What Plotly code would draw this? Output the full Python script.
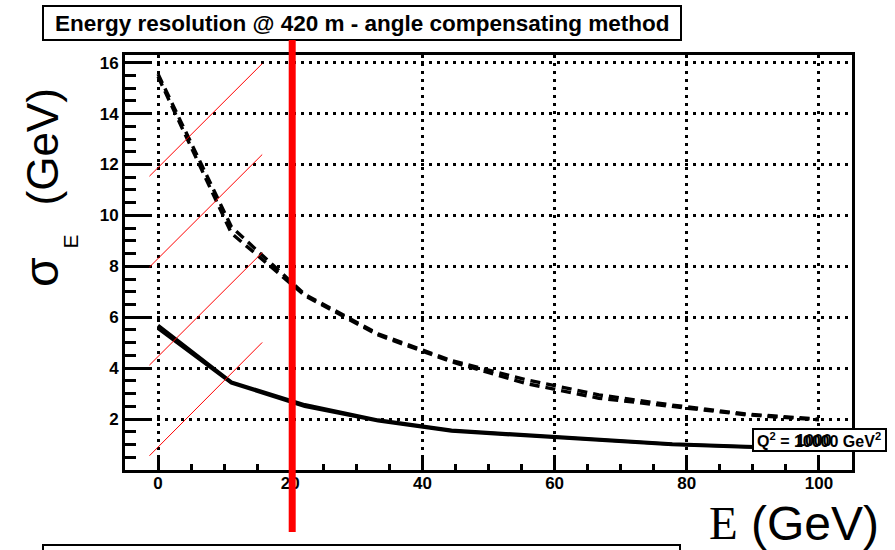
import plotly.graph_objects as go

# ---- data ----
energy = [0, 11.1, 22.2, 33.3, 44.4, 55.6, 66.7, 77.8, 88.9, 100]
sigma_dash_a = [15.55, 9.55, 6.90, 5.35, 4.30, 3.55, 2.95, 2.55, 2.20, 2.00]
sigma_dash_b = [15.45, 9.30, 6.85, 5.30, 4.25, 3.40, 2.82, 2.50, 2.17, 1.97]
sigma_solid_a = [5.68, 3.45, 2.56, 1.96, 1.56, 1.38, 1.22, 1.02, 0.92, 0.86]
sigma_solid_b = [5.56, 3.42, 2.50, 1.93, 1.53, 1.35, 1.19, 1.00, 0.90, 0.84]

x_ticks = [0, 20, 40, 60, 80, 100]
y_ticks = [2, 4, 6, 8, 10, 12, 14, 16]

# hand-drawn red overlay marks (data coordinates)
diag_x = [-1.3, 15.76]
diag_y0 = [11.54, 7.97, 4.12, 0.56]
diag_y1 = [15.96, 12.39, 8.54, 5.01]
red_vline_x = 20.3

title_text = "Energy resolution @ 420 m - angle compensating method"
legend_text = "Q<sup>2</sup> = 10000 GeV<sup>2</sup>"
legend_overlap_digits = "1000"

# ---- layout geometry ----
W, H = 895, 550
L, R, T, B = 125, 43, 55, 80
PW = W - L - R
PH = H - T - B


def pxx(x):
    return (x - L) / PW


def pxy(y):
    return (H - B - y) / PH


fig = go.Figure()
for ys in (sigma_dash_a, sigma_dash_b):
    fig.add_trace(go.Scatter(x=energy, y=ys, mode="lines",
                             line=dict(color="black", width=3.4, dash="10px,6px"),
                             showlegend=False, hoverinfo="skip"))
for ys in (sigma_solid_a, sigma_solid_b):
    fig.add_trace(go.Scatter(x=energy, y=ys, mode="lines",
                             line=dict(color="black", width=3.5),
                             showlegend=False, hoverinfo="skip"))

shapes = []
for y0, y1 in zip(diag_y0, diag_y1):
    shapes.append(dict(type="line", xref="x", yref="y", x0=diag_x[0], x1=diag_x[1],
                       y0=y0, y1=y1, line=dict(color="red", width=1)))
shapes.append(dict(type="line", xref="x", yref="paper", x0=red_vline_x, x1=red_vline_x,
                   y0=pxy(40), y1=pxy(532), line=dict(color="red", width=7)))
# title box
shapes.append(dict(type="rect", xref="paper", yref="paper", x0=pxx(43), x1=pxx(681),
                   y0=pxy(40), y1=pxy(6), line=dict(color="black", width=2),
                   fillcolor="white", layer="below"))
# bottom (cut) box
shapes.append(dict(type="rect", xref="paper", yref="paper", x0=pxx(43), x1=pxx(680),
                   y0=pxy(562), y1=pxy(545), line=dict(color="black", width=2),
                   fillcolor="white"))
# legend box
shapes.append(dict(type="rect", xref="paper", yref="paper", x0=pxx(753), x1=pxx(886),
                   y0=pxy(451), y1=pxy(429), line=dict(color="black", width=2),
                   fillcolor="white"))

annotations = [
    dict(text=title_text, xref="paper", yref="paper", x=pxx(362), y=pxy(23),
         showarrow=False, xanchor="center", yanchor="middle",
         font=dict(family="Liberation Sans", size=22.5, color="black", weight="bold")),
    dict(text="σ", xref="paper", yref="paper", x=pxx(41), y=pxy(272), textangle=-90,
         showarrow=False, xanchor="center", yanchor="middle",
         font=dict(family="Liberation Sans", size=48, color="black")),
    dict(text="E", xref="paper", yref="paper", x=pxx(70), y=pxy(241.5), textangle=-90,
         showarrow=False, xanchor="center", yanchor="middle",
         font=dict(family="Liberation Sans", size=21, color="black")),
    dict(text="(GeV)", xref="paper", yref="paper", x=pxx(42), y=pxy(147.5), textangle=-90,
         showarrow=False, xanchor="center", yanchor="middle",
         font=dict(family="Liberation Sans", size=44, color="black")),
    dict(text="E", xref="paper", yref="paper", x=pxx(723.5), y=pxy(523),
         showarrow=False, xanchor="center", yanchor="middle",
         font=dict(family="Liberation Serif", size=47, color="black")),
    dict(text="(GeV)", xref="paper", yref="paper", x=pxx(815), y=pxy(523),
         showarrow=False, xanchor="center", yanchor="middle",
         font=dict(family="Liberation Sans", size=48, color="black")),
    dict(text=legend_text, xref="paper", yref="paper", x=pxx(819), y=pxy(440),
         showarrow=False, xanchor="center", yanchor="middle",
         font=dict(family="Liberation Sans", size=16, color="black", weight="bold")),
    dict(text=legend_overlap_digits, xref="paper", yref="paper", x=pxx(814), y=pxy(440),
         showarrow=False, xanchor="center", yanchor="middle",
         font=dict(family="Liberation Sans", size=16, color="black", weight="bold")),
]

axis_common = dict(showline=True, linecolor="black", linewidth=3, mirror=True,
                   ticks="inside", tickcolor="black", tickwidth=2.5,
                   showgrid=True, gridcolor="black", gridwidth=2.5, griddash="2.5px,5.5px",
                   zeroline=False,
                   tickfont=dict(family="Liberation Sans", size=17, color="black", weight="bold"))

fig.update_layout(
    width=W, height=H, margin=dict(l=L, r=R, t=T, b=B),
    paper_bgcolor="white", plot_bgcolor="white",
    xaxis=dict(range=[-5, 105], tickvals=x_ticks, ticklen=13, ticklabelstandoff=-4,
               minor=dict(dtick=5, tick0=0, ticks="inside", ticklen=6, tickwidth=2.5,
                          tickcolor="black", showgrid=False),
               **axis_common),
    yaxis=dict(range=[0, 16.3], tickvals=y_ticks, ticklen=26,
               minor=dict(dtick=0.5, tick0=0, ticks="inside", ticklen=11, tickwidth=2.5,
                          tickcolor="black", showgrid=False),
               **axis_common),
    shapes=shapes, annotations=annotations,
)

fig.write_html("out.html")
